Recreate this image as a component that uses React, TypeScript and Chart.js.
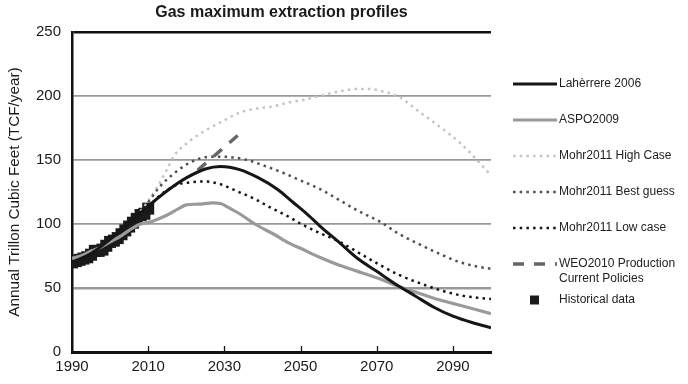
import React, { useEffect, useRef } from "react";
import { Chart, registerables } from "chart.js";

Chart.register(...registerables);

const TITLE = "Gas maximum extraction profiles";
const Y_TITLE = "Annual Trillon Cubic Feet (TCF/year)";
const X_TICKS = [1990, 2010, 2030, 2050, 2070, 2090];

const laherrereYears = [1990, 1995, 2000, 2005, 2010, 2015, 2020, 2025, 2029, 2034, 2039, 2044, 2048, 2052, 2056, 2060, 2065, 2070, 2075, 2080, 2085, 2090, 2095, 2100];
const laherrereValues = [70, 77, 88, 101, 114, 126, 136, 143, 145, 142.5, 136, 127, 117, 107, 96, 86, 73, 63, 53, 44, 35, 28, 23, 19];

const aspoYears = [1990, 1993, 1995, 1997, 2000, 2003, 2006, 2008, 2011, 2015, 2018, 2020, 2023, 2027, 2029, 2031, 2034, 2038, 2043, 2047, 2050, 2055, 2060, 2065, 2070, 2076, 2080, 2085, 2090, 2095, 2100];
const aspoValues = [73, 76, 79, 81, 86, 91, 97, 100, 102, 107, 112, 115, 115.5, 116.5, 116, 113, 108, 100, 92, 85, 81, 74, 68, 63, 58, 51, 47, 42, 38, 34, 30];

const highYears = [2008, 2010, 2012, 2015, 2017, 2021, 2025, 2030, 2034, 2038, 2043, 2047, 2050, 2055, 2060, 2065, 2068, 2071, 2076, 2081, 2087, 2092, 2096, 2100];
const highValues = [110, 118, 127, 143, 154, 165, 173, 181, 187, 190, 192, 195, 196.5, 200, 203.5, 205.5, 205.5, 204, 199, 188, 175, 163, 151, 138];

const bestYears = [2010, 2013, 2017, 2021, 2026, 2030, 2036, 2040, 2045, 2050, 2055, 2060, 2065, 2071, 2076, 2082, 2087, 2092, 2096, 2100];
const bestValues = [117, 129, 140, 148, 152.5, 152.5, 150, 146, 140.5, 134, 127.5, 119, 110.5, 101.5, 92, 83, 76, 70, 67, 65];

const lowYears = [2010, 2013, 2017, 2021, 2025, 2029, 2033, 2038, 2042, 2047, 2050, 2055, 2060, 2065, 2071, 2076, 2082, 2087, 2092, 2096, 2100];
const lowValues = [113, 122, 130, 132.5, 133.2, 131, 126, 119.5, 113, 105.5, 100.3, 93, 86.5, 78, 67.7, 60, 53, 48, 44.3, 42.5, 41.5];

const weoYears = [2023, 2029, 2035];
const weoValues = [142, 157.5, 173];

const histYears = [1990, 1991, 1992, 1993, 1994, 1995, 1996, 1997, 1998, 1999, 2000, 2001, 2002, 2003, 2004, 2005, 2006, 2007, 2008, 2009, 2010];
const histValues = [70, 71, 72, 73, 74, 76, 79, 79, 80, 83, 86, 87, 89, 92, 95, 98, 101, 104, 107, 108, 112];

const LEGEND_LABELS: (string | string[])[] = [
  "Lahèrrere 2006",
  "ASPO2009",
  "Mohr2011 High Case",
  "Mohr2011 Best guess",
  "Mohr2011 Low case",
  ["WEO2010 Production", "Current Policies"],
  "Historical data",
];

const FONT = '"Liberation Sans", Arial, Helvetica, sans-serif';

const pts = (xs: number[], ys: number[]) => xs.map((x, i) => ({ x, y: ys[i] }));

const DOT = [2.5, 4.2];

const decorPlugin = {
  id: "decor",
  afterDraw(chart: any) {
    const ctx = chart.ctx;
    const area = chart.chartArea;
    const xs = chart.scales.x;
    ctx.save();
    ctx.fillStyle = "#1a1a1a";
    ctx.font = `bold 16px ${FONT}`;
    ctx.textAlign = "center";
    ctx.textBaseline = "middle";
    ctx.fillText(TITLE, (area.left + area.right) / 2, 13);
    ctx.strokeStyle = "#111";
    ctx.lineWidth = 1.3;
    X_TICKS.slice(1).forEach((v) => {
      const px = Math.round(xs.getPixelForValue(v)) + 0.5;
      ctx.beginPath();
      ctx.moveTo(px, area.bottom - 6);
      ctx.lineTo(px, area.bottom);
      ctx.stroke();
    });
    const x0 = 513;
    const x1 = 557;
    chart.data.datasets.forEach((ds: any, i: number) => {
      const y = 84 + i * 36;
      if (ds.showLine === false) {
        ctx.fillStyle = "#1a1a1a";
        ctx.fillRect(530, y - 4.5, 9, 9);
      } else {
        ctx.beginPath();
        ctx.strokeStyle = ds.borderColor;
        ctx.lineWidth = ds.borderWidth;
        ctx.setLineDash(ds.borderDash || []);
        ctx.lineCap = "butt";
        ctx.moveTo(x0, y);
        ctx.lineTo(x1, y);
        ctx.stroke();
        ctx.setLineDash([]);
      }
      const lbl = LEGEND_LABELS[i];
      const lines = Array.isArray(lbl) ? lbl : [lbl];
      ctx.fillStyle = "#222";
      ctx.font = `12px ${FONT}`;
      ctx.textAlign = "left";
      ctx.textBaseline = "middle";
      lines.forEach((t, j) => ctx.fillText(t, 559, y + j * 14.5));
    });
    ctx.restore();
  },
};

export default function App() {
  const ref = useRef<HTMLCanvasElement | null>(null);
  useEffect(() => {
    if (!ref.current) return;
    const line = {
      type: "line" as const,
      pointRadius: 0,
      fill: false,
      cubicInterpolationMode: "monotone" as const,
      tension: 0.4,
      borderCapStyle: "butt" as const,
    };
    const chart = new Chart(ref.current, {
      type: "line",
      data: {
        datasets: [
          { ...line, label: "Lahèrrere 2006", data: pts(laherrereYears, laherrereValues), borderColor: "#161616", borderWidth: 3, order: 1 },
          { ...line, label: "ASPO2009", data: pts(aspoYears, aspoValues), borderColor: "#9a9a9a", borderWidth: 3.2, order: 2 },
          { ...line, label: "Mohr2011 High Case", data: pts(highYears, highValues), borderColor: "#c4c4c4", borderWidth: 2.5, borderDash: DOT, order: 6 },
          { ...line, label: "Mohr2011 Best guess", data: pts(bestYears, bestValues), borderColor: "#505050", borderWidth: 2.5, borderDash: DOT, order: 5 },
          { ...line, label: "Mohr2011 Low case", data: pts(lowYears, lowValues), borderColor: "#151515", borderWidth: 2.5, borderDash: DOT, order: 4 },
          { ...line, label: "WEO2010 Production Current Policies", data: pts(weoYears, weoValues), borderColor: "#666666", borderWidth: 3.5, borderDash: [11, 10], order: 3 },
          {
            type: "line" as const,
            label: "Historical data",
            data: pts(histYears, histValues),
            showLine: false,
            pointStyle: "rect",
            pointRadius: 8.5,
            pointBackgroundColor: "#1a1a1a",
            pointBorderColor: "#1a1a1a",
            pointBorderWidth: 0,
            borderColor: "#1a1a1a",
            order: 7,
          },
        ],
      },
      options: {
        animation: false,
        responsive: true,
        maintainAspectRatio: false,
        layout: { padding: { left: 0, right: 197, top: 32, bottom: 0 } },
        plugins: { legend: { display: false }, tooltip: { enabled: false }, title: { display: false } },
        scales: {
          x: {
            type: "linear",
            min: 1990,
            max: 2100,
            afterBuildTicks: (s: any) => {
              s.ticks = X_TICKS.map((v) => ({ value: v }));
            },
            afterFit: (s: any) => {
              s.height = 32;
            },
            ticks: {
              autoSkip: false,
              maxRotation: 0,
              padding: 6,
              color: "#1a1a1a",
              font: { family: FONT, size: 15 },
              callback: (v: any) => String(v),
            },
            grid: { drawOnChartArea: false, drawTicks: false },
            border: { color: "#111", width: 3 },
          },
          y: {
            type: "linear",
            min: 0,
            max: 250,
            afterFit: (s: any) => {
              s.width = 72;
            },
            ticks: {
              stepSize: 50,
              padding: 11,
              color: "#1a1a1a",
              font: { family: FONT, size: 15 },
            },
            grid: {
              drawTicks: false,
              color: (c: any) => (c.tick && c.tick.value === 250 ? "#111" : c.tick && c.tick.value === 0 ? "rgba(0,0,0,0)" : "#999"),
              lineWidth: (c: any) => (c.tick && c.tick.value === 250 ? 2.5 : c.tick && c.tick.value === 50 ? 2.6 : 1.8),
            },
            border: { color: "#111", width: 2.5 },
            title: {
              display: true,
              text: Y_TITLE,
              color: "#1a1a1a",
              font: { family: FONT, size: 15.3 },
              padding: { top: 6, bottom: 0 },
            },
          },
        },
      },
      plugins: [decorPlugin],
    } as any);
    return () => chart.destroy();
  }, []);
  return (
    <div style={{ position: "fixed", left: 0, top: 0, width: 688, height: 384, background: "#fff" }}>
      <canvas ref={ref} />
    </div>
  );
}
